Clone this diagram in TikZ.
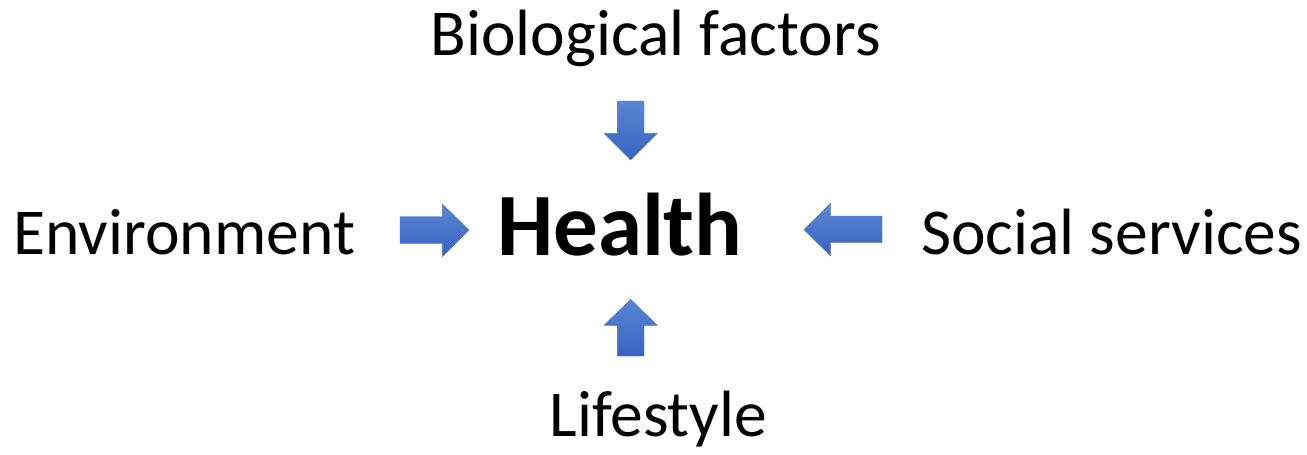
\documentclass[tikz,border=0pt]{standalone}
\usepackage{fontspec}
\setmainfont{Carlito}
\begin{document}
\begin{tikzpicture}[x=1pt,y=-1pt,
  lbl/.style={anchor=base,inner sep=0pt,font=\fontsize{65.5}{72}\selectfont},
  hub/.style={anchor=base,inner sep=0pt,font=\fontsize{89}{100}\selectfont\bfseries},
  blockarrow/.style={top color=arrowtop,bottom color=arrowbot,draw=arrowedge,line width=0.4pt}]
\definecolor{arrowtop}{HTML}{5C86D2}
\definecolor{arrowbot}{HTML}{3863C2}
\definecolor{arrowedge}{HTML}{4F78C8}
\useasboundingbox (0,0) rectangle (1307,455);
\fill[white] (0,0) rectangle (1307,455);
% labels
\node[hub] (health) at (619.8,255.7) {Health};
\node[lbl] (bio) at (655.8,55) {Biological factors};
\node[lbl] (env) at (184.3,254) {Environment};
\node[lbl] (soc) at (1111.7,254) {Social services};
\node[lbl] (life) at (658.3,436.7) {Lifestyle};
% block arrows
\path[blockarrow] (617.3,101) -- (644,101) -- (644,133.3) -- (657.3,133.3) -- (630.7,160)
  -- (604,133.3) -- (617.3,133.3) -- cycle;
\path[blockarrow] (630.7,299.3) -- (657.3,325.3) -- (644,325.3) -- (644,356) -- (617.3,356)
  -- (617.3,325.3) -- (604,325.3) -- cycle;
\path[blockarrow] (400,216.7) -- (442.3,216.7) -- (442.3,204) -- (469,230) -- (442.3,256.7)
  -- (442.3,243.3) -- (400,243.3) -- cycle;
\path[blockarrow] (804,229.7) -- (830.7,203.3) -- (830.7,216) -- (882,216) -- (882,242.7)
  -- (830.7,242.7) -- (830.7,256) -- cycle;
\end{tikzpicture}
\end{document}
